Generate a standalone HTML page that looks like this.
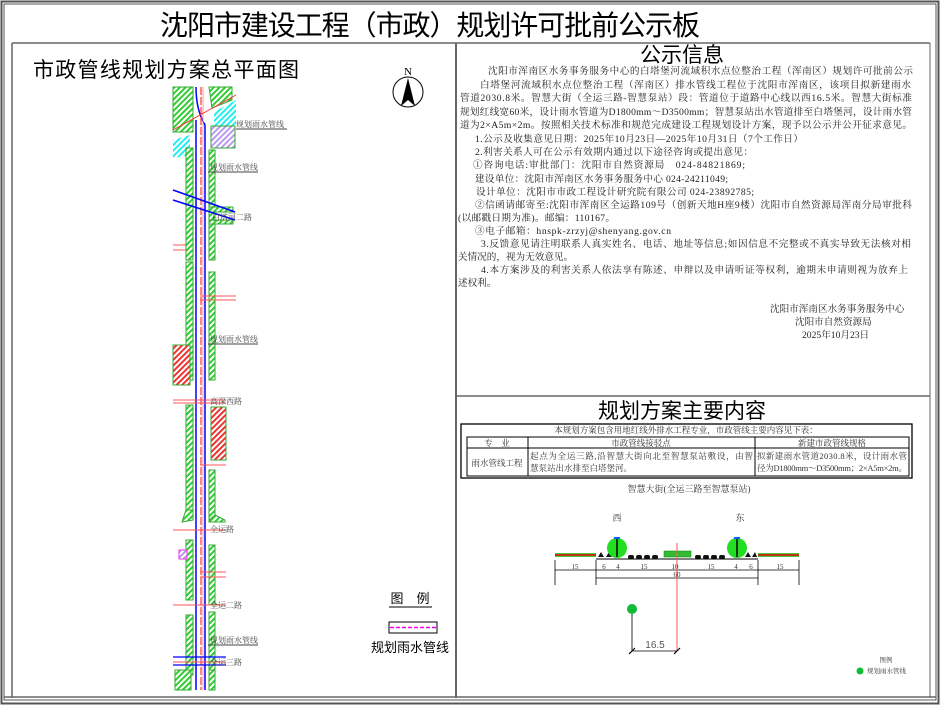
<!DOCTYPE html>
<html><head><meta charset="utf-8"><style>
html,body{margin:0;padding:0;background:#fff;}
svg{display:block;font-family:"Liberation Serif","Noto Serif CJK SC","Noto Sans CJK SC",serif;}
.s{font-family:"Liberation Sans","Noto Sans CJK SC",sans-serif;}
</style></head><body>
<svg width="940" height="705" viewBox="0 0 940 705" xmlns="http://www.w3.org/2000/svg">
<defs>
<pattern id="gh" width="4" height="4" patternUnits="userSpaceOnUse" patternTransform="rotate(45)">
<rect width="4" height="4" fill="#fff"/><rect width="2" height="4" fill="#3c3"/></pattern>
<pattern id="rh" width="4" height="4" patternUnits="userSpaceOnUse" patternTransform="rotate(45)">
<rect width="4" height="4" fill="#fff"/><rect width="2" height="4" fill="#e33"/></pattern>
<pattern id="ch" width="4" height="4" patternUnits="userSpaceOnUse" patternTransform="rotate(45)">
<rect width="4" height="4" fill="#fff"/><rect width="2" height="4" fill="#2ee"/></pattern>
<pattern id="ph" width="4" height="4" patternUnits="userSpaceOnUse" patternTransform="rotate(45)">
<rect width="4" height="4" fill="#fff"/><rect width="2" height="4" fill="#b9e"/></pattern>
</defs>
<rect x="0" y="0" width="940" height="705" fill="#fff"/>
<rect x="1.5" y="1.5" width="937" height="702" fill="none" stroke="#555" stroke-width="2"/>
<rect x="4" y="4" width="932" height="696" fill="none" stroke="#555" stroke-width="1"/>
<text x="430" y="35" font-size="28" text-anchor="middle" class="s" textLength="540">沈阳市建设工程（市政）规划许可批前公示板</text>
<line x1="12" y1="43" x2="930" y2="43" stroke="#666" stroke-width="1.5"/>
<line x1="12" y1="43" x2="12" y2="698" stroke="#666" stroke-width="1.5"/>
<line x1="456" y1="43" x2="456" y2="698" stroke="#666" stroke-width="2"/>
<line x1="930" y1="43" x2="930" y2="698" stroke="#666" stroke-width="1"/>
<line x1="4" y1="697" x2="936" y2="697" stroke="#666" stroke-width="1.5"/>
<line x1="456" y1="396" x2="930" y2="396" stroke="#666" stroke-width="1.5"/>

<text x="33" y="77" font-size="21" class="s" textLength="266">市政管线规划方案总平面图</text>
<text x="408" y="75" font-size="11" text-anchor="middle">N</text>
<circle cx="408" cy="92" r="15" fill="none" stroke="#000"/>
<polygon points="408,78 401,106 408,100 415,106" fill="#000"/>

<g>
<rect x="173" y="87" width="20" height="45" fill="url(#gh)" stroke="#3a3"/>
<polygon points="209,87 232,87 232,100 212,108" fill="url(#gh)" stroke="#3a3"/>
<polygon points="214,112 236,100 236,125 214,135" fill="url(#ch)"/>
<rect x="211" y="126" width="24" height="22" fill="url(#ph)" stroke="#3a3"/>
<polygon points="173,140 190,135 190,155 173,158" fill="url(#ch)"/>
<rect x="186" y="148" width="7" height="112" fill="url(#gh)" stroke="#3a3"/>
<rect x="209" y="150" width="6" height="110" fill="url(#gh)" stroke="#3a3"/>
<rect x="209" y="207" width="24" height="5" fill="url(#gh)" stroke="#3a3"/>
<rect x="209" y="220" width="24" height="4" fill="url(#gh)" stroke="#3a3"/>
<rect x="186" y="262" width="7" height="118" fill="url(#gh)" stroke="#3a3"/>
<rect x="209" y="272" width="6" height="108" fill="url(#gh)" stroke="#3a3"/>
<rect x="173" y="345" width="17" height="40" fill="url(#rh)" stroke="#3a3"/>
<rect x="186" y="405" width="7" height="105" fill="url(#gh)" stroke="#3a3"/>
<rect x="211" y="407" width="15" height="53" fill="url(#rh)" stroke="#3a3"/>
<rect x="209" y="470" width="6" height="50" fill="url(#gh)" stroke="#3a3"/>
<polygon points="186,510 193,510 193,520 182,522" fill="url(#gh)" stroke="#3a3"/>
<polygon points="209,520 215,515 225,520 225,522 209,522" fill="url(#gh)" stroke="#3a3"/>
<rect x="186" y="540" width="7" height="60" fill="url(#gh)" stroke="#3a3"/>
<rect x="179" y="550" width="8" height="9" fill="url(#ph)" stroke="#e3e"/>
<rect x="209" y="545" width="6" height="60" fill="url(#gh)" stroke="#3a3"/>
<rect x="186" y="615" width="7" height="60" fill="url(#gh)" stroke="#3a3"/>
<rect x="209" y="612" width="6" height="60" fill="url(#gh)" stroke="#3a3"/>
<rect x="175" y="670" width="16" height="20" fill="url(#gh)" stroke="#3a3"/>
<rect x="209" y="670" width="6" height="20" fill="url(#gh)" stroke="#3a3"/>
<path d="M196 87 Q196 110 205 125 L205 690" fill="none" stroke="#00f" stroke-width="1.5"/>
<line x1="196" y1="120" x2="196" y2="690" stroke="#00f" stroke-width="1.5"/>
<line x1="201" y1="87" x2="201" y2="690" stroke="#f44" stroke-width="1.3" stroke-dasharray="8,2"/>
<line x1="203" y1="87" x2="203" y2="690" stroke="#f99" stroke-width="1"/>
<line x1="173" y1="190" x2="235" y2="212" stroke="#00f" stroke-width="1.5"/>
<line x1="173" y1="200" x2="235" y2="220" stroke="#00f" stroke-width="1.5"/>
<line x1="173" y1="130" x2="236" y2="95" stroke="#f33" stroke-width="1"/>
<g stroke="#f55" stroke-width="1"><line x1="173" y1="245" x2="186" y2="245"/><line x1="173" y1="250" x2="186" y2="250"/>
<line x1="200" y1="296" x2="236" y2="296"/><line x1="200" y1="300" x2="236" y2="300"/>
<line x1="173" y1="400" x2="226" y2="400"/><line x1="173" y1="403" x2="226" y2="403"/>
<line x1="200" y1="465" x2="226" y2="465"/><line x1="173" y1="530" x2="226" y2="530"/>
<line x1="200" y1="572" x2="226" y2="572"/><line x1="200" y1="577" x2="226" y2="577"/>
<line x1="173" y1="605" x2="226" y2="605"/><line x1="173" y1="662" x2="226" y2="662"/></g>
<line x1="173" y1="657" x2="226" y2="657" stroke="#00f" stroke-width="1.3"/>
<line x1="173" y1="665" x2="226" y2="665" stroke="#00f" stroke-width="1.3"/>
<g font-size="8" fill="#444">
<text x="236" y="127">规划雨水管线</text><line x1="236" y1="129" x2="287" y2="129" stroke="#444"/>
<text x="210" y="170">规划雨水管线</text><line x1="208" y1="172" x2="258" y2="172" stroke="#444"/>
<text x="212" y="220">白塔河二路</text>
<text x="210" y="342">规划雨水管线</text><line x1="208" y1="344" x2="258" y2="344" stroke="#444"/>
<text x="210" y="404">高深西路</text>
<text x="210" y="532">全运路</text>
<text x="210" y="608">全运二路</text>
<text x="210" y="643">规划雨水管线</text><line x1="208" y1="645" x2="258" y2="645" stroke="#444"/>
<text x="210" y="665">全运三路</text>
</g>
</g>

<text x="410" y="603" font-size="13" text-anchor="middle" class="s">图　例</text>
<line x1="389" y1="607" x2="432" y2="607" stroke="#000"/>
<rect x="389" y="622" width="48" height="11" fill="none" stroke="#000"/>
<line x1="390" y1="627.5" x2="436" y2="627.5" stroke="#e0e" stroke-width="1.5" stroke-dasharray="4,2"/>
<text x="410" y="652" font-size="13" text-anchor="middle" class="s">规划雨水管线</text>

<text x="682" y="62" font-size="21" text-anchor="middle" class="s">公示信息</text>
<g font-size="9.6" fill="#222">
<text x="488" y="74" textLength="425">沈阳市浑南区水务事务服务中心的白塔堡河流域积水点位整治工程（浑南区）规划许可批前公示</text>
<text x="480" y="88" textLength="431">白塔堡河流域积水点位整治工程（浑南区）排水管线工程位于沈阳市浑南区，该项目拟新建雨水</text>
<text x="460" y="101" textLength="452">管道2030.8米。智慧大街（全运三路-智慧泵站）段：管道位于道路中心线以西16.5米。智慧大街标准</text>
<text x="460" y="115" textLength="452">规划红线宽60米，设计雨水管道为D1800mm～D3500mm；智慧泵站出水管道排至白塔堡河，设计雨水管</text>
<text x="460" y="128" textLength="452">道为2×A5m×2m。按照相关技术标准和规范完成建设工程规划设计方案，现予以公示并公开征求意见。</text>
<text x="475" y="142" textLength="328">1.公示及收集意见日期：2025年10月23日—2025年10月31日（7个工作日）</text>
<text x="475" y="155" textLength="278">2.利害关系人可在公示有效期内通过以下途径咨询或提出意见：</text>
<text x="473" y="168" textLength="272">①咨询电话:审批部门：沈阳市自然资源局　024-84821869;</text>
<text x="475" y="182" textLength="253">建设单位：沈阳市浑南区水务事务服务中心 024-24211049;</text>
<text x="476" y="195" textLength="278">设计单位：沈阳市市政工程设计研究院有限公司 024-23892785;</text>
<text x="475" y="208" textLength="437">②信函请邮寄至:沈阳市浑南区全运路109号（创新天地H座9楼）沈阳市自然资源局浑南分局审批科</text>
<text x="458" y="221" textLength="157">(以邮戳日期为准)。邮编：110167。</text>
<text x="475" y="234" textLength="196">③电子邮箱：hnspk-zrzyj@shenyang.gov.cn</text>
<text x="481" y="247" textLength="430">3.反馈意见请注明联系人真实姓名、电话、地址等信息;如因信息不完整或不真实导致无法核对相</text>
<text x="458" y="260">关情况的，视为无效意见。</text>
<text x="481" y="273" textLength="427">4.本方案涉及的利害关系人依法享有陈述、申辩以及申请听证等权利，逾期未申请则视为放弃上</text>
<text x="458" y="286">述权利。</text>
<text x="770" y="312">沈阳市浑南区水务事务服务中心</text>
<text x="795" y="325">沈阳市自然资源局</text>
<text x="802" y="338">2025年10月23日</text>
</g>

<text x="682" y="418" font-size="21" text-anchor="middle" class="s">规划方案主要内容</text>
<rect x="461" y="424" width="451" height="54" fill="none" stroke="#000" stroke-width="1.3"/>
<text x="686" y="433" font-size="8.5" text-anchor="middle" fill="#333">本规划方案包含用地红线外排水工程专业，市政管线主要内容见下表：</text>
<rect x="467" y="437" width="442" height="39" fill="none" stroke="#000"/>
<line x1="467" y1="448" x2="909" y2="448" stroke="#000"/>
<line x1="528" y1="437" x2="528" y2="476" stroke="#000"/>
<line x1="755" y1="437" x2="755" y2="476" stroke="#000"/>
<g font-size="8.5" fill="#333">
<text x="497" y="446" text-anchor="middle">专　业</text>
<text x="641" y="446" text-anchor="middle">市政管线接驳点</text>
<text x="832" y="446" text-anchor="middle">新建市政管线规格</text>
<text x="497" y="466" text-anchor="middle">雨水管线工程</text>
<text x="530" y="459" textLength="223">起点为全运三路,沿智慧大街向北至智慧泵站敷设，由智</text>
<text x="530" y="471">慧泵站出水排至白塔堡河。</text>
<text x="757" y="459" textLength="150">拟新建雨水管道2030.8米，设计雨水管</text>
<text x="757" y="471" textLength="150">径为D1800mm～D3500mm；2×A5m×2m。</text>
<text x="689" y="492" text-anchor="middle" font-size="9">智慧大街(全运三路至智慧泵站)</text>
<text x="617" y="521" text-anchor="middle" font-size="9">西</text>
<text x="740" y="521" text-anchor="middle" font-size="9">东</text>
</g>
<rect x="555" y="553" width="41" height="4" fill="#4c4"/>
<line x1="555" y1="555" x2="596" y2="555" stroke="#e00" stroke-width="1.5"/>
<rect x="758" y="553" width="41" height="4" fill="#4c4"/>
<line x1="758" y1="555" x2="799" y2="555" stroke="#e00" stroke-width="1.5"/>
<rect x="664" y="551" width="27" height="6" fill="#3b3" stroke="#080" stroke-width="0.5"/>
<g fill="#111">
<rect x="628" y="555" width="6" height="4" rx="2"/><rect x="636" y="555" width="6" height="4" rx="2"/><rect x="644" y="555" width="6" height="4" rx="2"/><rect x="652" y="555" width="6" height="4" rx="2"/>
<rect x="695" y="555" width="6" height="4" rx="2"/><rect x="703" y="555" width="6" height="4" rx="2"/><rect x="711" y="555" width="6" height="4" rx="2"/><rect x="719" y="555" width="6" height="4" rx="2"/>
<polygon points="598,557 601,552 604,557"/><polygon points="606,557 609,552 612,557"/>
<polygon points="745,557 748,552 751,557"/><polygon points="752,557 755,552 757,557"/>
</g>
<line x1="596" y1="559" x2="758" y2="559" stroke="#000"/>
<circle cx="617" cy="548" r="10" fill="#2d2"/><line x1="617" y1="539" x2="617" y2="557" stroke="#000" stroke-width="1.5"/>
<rect x="614" y="537" width="6" height="2" fill="#06f"/>
<circle cx="737" cy="548" r="10" fill="#2d2"/><line x1="737" y1="539" x2="737" y2="557" stroke="#000" stroke-width="1.5"/>
<rect x="734" y="537" width="6" height="2" fill="#06f"/>
<g stroke="#000" stroke-width="0.8">
<line x1="555" y1="560" x2="555" y2="585"/><line x1="596" y1="560" x2="596" y2="585"/>
<line x1="758" y1="560" x2="758" y2="585"/><line x1="799" y1="560" x2="799" y2="585"/>
<line x1="555" y1="570" x2="799" y2="570"/><line x1="596" y1="578" x2="758" y2="578"/>
</g>
<g font-size="7" fill="#333" text-anchor="middle">
<text x="575" y="569">15</text><text x="604" y="569">6</text><text x="618" y="569">4</text><text x="644" y="569">15</text>
<text x="675" y="569">10</text><text x="711" y="569">15</text><text x="736" y="569">4</text><text x="751" y="569">6</text><text x="780" y="569">15</text>
<text x="677" y="577">60</text>
</g>
<line x1="677" y1="543" x2="677" y2="651" stroke="#f55" stroke-width="1"/>
<circle cx="632" cy="609" r="5" fill="#1b3"/>
<polyline points="632,614 632,651 677,651" fill="none" stroke="#000" stroke-width="0.8"/>
<line x1="629" y1="654" x2="635" y2="648" stroke="#000" stroke-width="1.2"/>
<line x1="674" y1="654" x2="680" y2="648" stroke="#000" stroke-width="1.2"/>
<text x="655" y="648" font-size="10" text-anchor="middle" class="s" fill="#555">16.5</text>
<text x="886" y="662" font-size="6.5" text-anchor="middle" fill="#333">图例</text>
<circle cx="860" cy="671" r="3.5" fill="#1b3"/>
<text x="867" y="673" font-size="6.5" fill="#333">规划雨水管线</text>
</svg>
</body></html>
